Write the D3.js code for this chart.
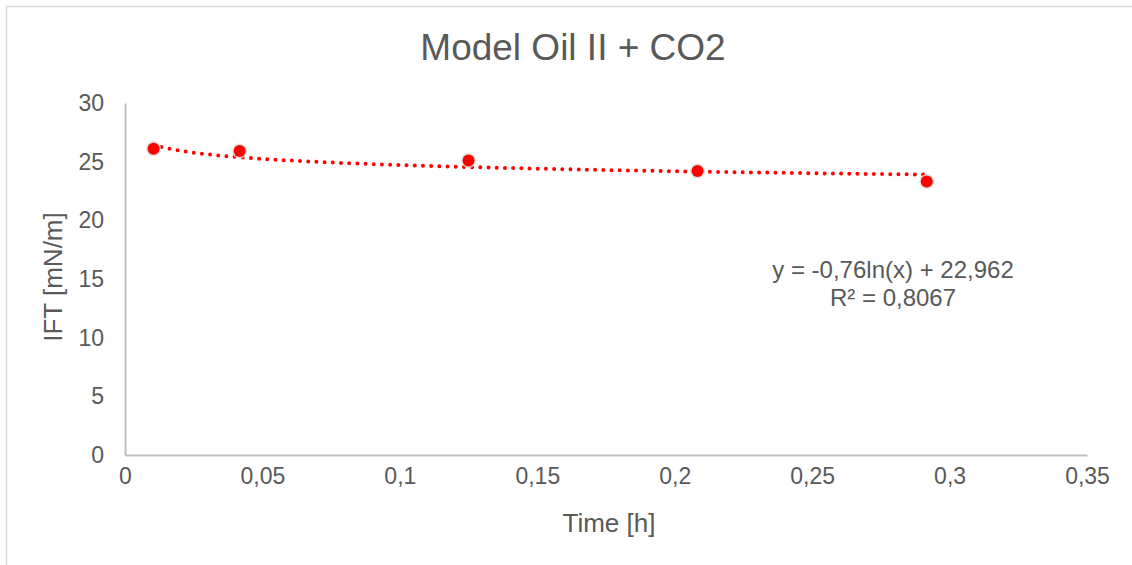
<!DOCTYPE html>
<html>
<head>
<meta charset="utf-8">
<script src="https://cdn.jsdelivr.net/npm/d3@7"></script>
<style>
  html, body { margin: 0; padding: 0; background: #fff; }
  svg { display: block; font-family: "Liberation Sans", Arial, Helvetica, sans-serif; }
</style>
</head>
<body>
<svg id="chart" width="1132" height="565"></svg>
<script>
// Measured interfacial tension over time
const timeH = [0.0104, 0.0417, 0.125, 0.2083, 0.2917];
const iftValues = [26.1, 25.9, 25.1, 24.2, 23.3];

// Logarithmic trendline reported for the series: y = a·ln(x) + b
const trendA = -0.76;
const trendB = 22.962;
const trendLabel = ["y = -0,76ln(x) + 22,962", "R\u00b2 = 0,8067"];

const xTicks = [0, 0.05, 0.1, 0.15, 0.2, 0.25, 0.3, 0.35];
const yTicks = [0, 5, 10, 15, 20, 25, 30];

const titleText = "Model Oil II + CO2";
const xTitle = "Time [h]";
const yTitle = "IFT [mN/m]";

const svg = d3.select("#chart");
const W = 1132, H = 565;
const plot = { left: 125, right: 1087, top: 103, bottom: 455 };
const textColor = "#595959";
const axisColor = "#bfbfbf";
const red = "#ff0000";

// Chart frame
svg.append("rect")
  .attr("x", 6.5).attr("y", 6.5)
  .attr("width", W + 20).attr("height", H + 20)
  .attr("fill", "#fff").attr("stroke", "#d9d9d9").attr("stroke-width", 1.5);

const x = d3.scaleLinear().domain([0, 0.35]).range([plot.left, plot.right]);
const y = d3.scaleLinear().domain([0, 30]).range([plot.bottom, plot.top]);

const comma = v => String(v).replace(".", ",");

// X axis
const xAxis = svg.append("g")
  .attr("transform", `translate(0,${plot.bottom})`)
  .call(d3.axisBottom(x).tickValues(xTicks).tickFormat(comma).tickSize(0).tickPadding(13));
xAxis.select(".domain").attr("stroke", axisColor).attr("stroke-width", 2);
xAxis.selectAll("text")
  .attr("fill", textColor).attr("font-size", 23)
  .attr("font-family", "Liberation Sans, Arial, sans-serif");

// Y axis
const yAxis = svg.append("g")
  .attr("transform", `translate(${plot.left},0)`)
  .call(d3.axisLeft(y).tickValues(yTicks).tickFormat(comma).tickSize(0).tickPadding(21));
yAxis.select(".domain").attr("stroke", axisColor).attr("stroke-width", 2);
yAxis.selectAll("text")
  .attr("fill", textColor).attr("font-size", 23)
  .attr("font-family", "Liberation Sans, Arial, sans-serif");

// Trendline over the measured time range
const trendPts = d3.range(0, 201).map(i => {
  const t = timeH[0] + (timeH[timeH.length - 1] - timeH[0]) * i / 200;
  return [t, trendA * Math.log(t) + trendB];
});
svg.append("path")
  .datum(trendPts)
  .attr("d", d3.line().x(d => x(d[0])).y(d => y(d[1])))
  .attr("fill", "none")
  .attr("stroke", red)
  .attr("stroke-width", 4)
  .attr("stroke-linecap", "round")
  .attr("stroke-dasharray", "0 8.2");

// Data markers with a soft halo
const pts = svg.append("g");
pts.selectAll("circle.halo")
  .data(timeH)
  .join("circle")
  .attr("class", "halo")
  .attr("cx", d => x(d))
  .attr("cy", (d, i) => y(iftValues[i]))
  .attr("r", 7.5)
  .attr("fill", "#d8d8d8")
  .attr("opacity", 0.8);
pts.selectAll("circle.dot")
  .data(timeH)
  .join("circle")
  .attr("class", "dot")
  .attr("cx", d => x(d))
  .attr("cy", (d, i) => y(iftValues[i]))
  .attr("r", 6)
  .attr("fill", red);

// Trendline equation
const eq = svg.append("text")
  .attr("x", 893).attr("y", 278)
  .attr("text-anchor", "middle")
  .attr("fill", textColor)
  .attr("font-size", 24);
eq.selectAll("tspan")
  .data(trendLabel)
  .join("tspan")
  .attr("x", 893)
  .attr("dy", (d, i) => i === 0 ? 0 : 28)
  .text(d => d);

// Title and axis titles
svg.append("text")
  .attr("x", 573).attr("y", 60)
  .attr("text-anchor", "middle")
  .attr("fill", textColor)
  .attr("font-size", 37)
  .text(titleText);

svg.append("text")
  .attr("x", 609).attr("y", 532)
  .attr("text-anchor", "middle")
  .attr("fill", textColor)
  .attr("font-size", 26)
  .text(xTitle);

svg.append("text")
  .attr("transform", "translate(62,277) rotate(-90)")
  .attr("text-anchor", "middle")
  .attr("fill", textColor)
  .attr("font-size", 26)
  .text(yTitle);
</script>
</body>
</html>
